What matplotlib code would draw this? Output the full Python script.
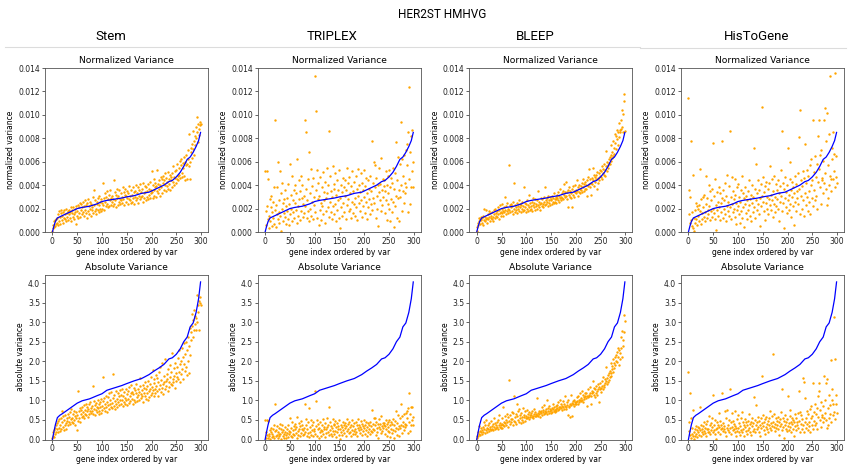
import matplotlib
matplotlib.use('Agg')
import matplotlib.pyplot as plt
from matplotlib.lines import Line2D
import numpy as np

W, H = 850, 468

methods = ['Stem', 'TRIPLEX', 'BLEEP', 'HisToGene']
method_x = [111, 332, 535, 757]   # header centres, px

# ground-truth variance curve (genes ordered by var), read at a few gene indices
ref_idx = [0, 3, 6, 10, 15, 20, 30, 40, 50, 60, 75, 90, 100, 110, 125, 140, 150, 165,
           180, 195, 205, 215, 225, 235, 242, 250, 258, 265, 272, 278, 284, 290, 295, 299]
ref_norm = [0.0, 0.0005, 0.0009, 0.0012, 0.0013, 0.0014, 0.0016, 0.0018, 0.0020, 0.0021,
            0.0022, 0.0024, 0.0026, 0.0027, 0.0028, 0.0029, 0.0030, 0.0031, 0.0033, 0.0034,
            0.0036, 0.0038, 0.0040, 0.0043, 0.0044, 0.0047, 0.0051, 0.0056, 0.0062, 0.0064,
            0.0068, 0.0073, 0.0078, 0.0085]
ref_abs = [0.0, 0.20, 0.38, 0.56, 0.62, 0.66, 0.75, 0.84, 0.93, 0.99, 1.04, 1.12, 1.17, 1.26,
           1.32, 1.38, 1.43, 1.50, 1.56, 1.66, 1.75, 1.83, 1.92, 2.06, 2.09, 2.18, 2.32, 2.50,
           2.62, 2.88, 2.98, 3.25, 3.60, 4.03]

# predicted normalized variance per gene, in units of 1e-4
stem_norm = [1, 3, 6, 4, 9, 5, 10, 7, 11, 8, 12, 6, 15, 9, 18, 13, 7, 16, 19, 10,
             14, 8, 17, 12, 19, 11, 15, 20, 9, 16, 13, 18, 10, 19, 15, 12, 17, 21, 9, 16,
             19, 13, 21, 15, 11, 20, 17, 7, 22, 14, 18, 23, 12, 21, 16, 25, 13, 19, 24, 15,
             21, 17, 26, 14, 22, 19, 27, 16, 23, 12, 25, 18, 28, 15, 22, 20, 26, 14, 24, 19,
             21, 30, 16, 36, 23, 18, 27, 20, 15, 26, 24, 19, 29, 17, 23, 31, 20, 26, 18, 28,
             25, 20, 42, 23, 29, 19, 33, 26, 22, 30, 24, 35, 21, 28, 32, 22, 27, 36, 23, 29,
             26, 31, 22, 28, 44, 24, 34, 27, 21, 32, 29, 37, 23, 31, 26, 36, 28, 24, 33, 27,
             30, 25, 38, 28, 34, 23, 32, 37, 26, 31, 29, 35, 24, 33, 28, 39, 27, 31, 25, 36,
             32, 26, 38, 29, 34, 24, 35, 30, 40, 27, 33, 29, 38, 25, 36, 31, 28, 41, 30, 34,
             31, 37, 26, 42, 33, 29, 39, 34, 27, 38, 35, 30, 41, 28, 37, 32, 43, 29, 36, 33,
             52, 34, 29, 40, 36, 45, 31, 42, 38, 30, 39, 35, 53, 33, 41, 37, 44, 31, 40, 47,
             38, 45, 33, 42, 48, 36, 44, 40, 50, 35, 46, 39, 43, 51, 37, 45, 41, 49, 36, 47,
             44, 50, 38, 56, 43, 47, 40, 52, 46, 42, 53, 45, 58, 48, 44, 55, 49, 61, 46, 57,
             62, 50, 47, 59, 55, 64, 48, 60, 44, 57, 66, 58, 45, 62, 70, 56, 84, 45, 60, 72,
             68, 75, 63, 86, 71, 78, 66, 82, 74, 90, 80, 98, 85, 77, 92, 88, 83, 91, 94, 92]

triplex_norm = [52, 6, 18, 52, 22, 11, 45, 3, 14, 28, 9, 21, 31, 5, 17, 26, 12, 38, 7, 19,
                96, 4, 23, 15, 38, 60, 11, 27, 8, 17, 52, 14, 33, 1, 20, 42, 9, 25, 16, 28,
                13, 36, 22, 7, 29, 18, 41, 11, 24, 6, 58, 15, 32, 20, 48, 9, 27, 17, 36, 12,
                25, 40, 19, 33, 8, 62, 22, 14, 44, 28, 10, 35, 48, 18, 29, 40, 13, 24, 31, 16,
                96, 22, 85, 37, 12, 27, 45, 18, 68, 9, 33, 20, 54, 14, 39, 26, 11, 46, 23, 30,
                133, 17, 103, 36, 12, 53, 28, 42, 6, 31, 19, 47, 25, 10, 38, 22, 51, 15, 34, 27,
                8, 43, 29, 18, 55, 33, 21, 40, 13, 86, 26, 48, 17, 35, 11, 30, 56, 22, 41, 15,
                37, 24, 50, 9, 32, 19, 44, 27, 36, 12, 53, 3, 29, 40, 21, 34, 14, 46, 25, 38,
                17, 44, 31, 11, 36, 55, 23, 42, 28, 18, 47, 20, 33, 12, 39, 26, 52, 16, 35, 24,
                43, 29, 14, 48, 21, 37, 10, 31, 54, 25, 40, 18, 34, 50, 27, 13, 42, 22, 36, 30,
                53, 16, 39, 26, 46, 11, 33, 21, 44, 28, 37, 15, 48, 24, 35, 78, 19, 42, 29, 60,
                25, 38, 57, 12, 46, 31, 20, 40, 5, 34, 55, 27, 41, 18, 63, 36, 23, 45, 30, 39,
                44, 16, 35, 52, 27, 10, 40, 24, 48, 33, 20, 53, 38, 9, 46, 28, 17, 42, 26, 55,
                4, 37, 22, 50, 31, 77, 12, 44, 29, 64, 36, 9, 58, 30, 94, 40, 18, 62, 35, 48,
                25, 66, 42, 33, 70, 38, 75, 57, 17, 85, 45, 124, 68, 24, 82, 38, 52, 87, 60, 38]

bleep_norm = [1, 4, 8, 6, 12, 9, 11, 7, 13, 10, 8, 12, 6, 14, 10, 20, 9, 13, 11, 19,
              12, 8, 15, 11, 18, 13, 9, 16, 12, 14, 11, 17, 13, 9, 19, 15, 12, 20, 14, 16,
              13, 18, 21, 15, 11, 19, 16, 23, 14, 17, 20, 16, 24, 18, 14, 21, 17, 30, 19, 15,
              22, 18, 25, 16, 20, 57, 19, 23, 17, 21, 24, 18, 22, 15, 26, 20, 42, 17, 23, 21,
              19, 25, 16, 22, 20, 27, 18, 24, 21, 17, 23, 20, 26, 18, 22, 38, 19, 25, 21, 17,
              24, 20, 27, 18, 23, 21, 32, 19, 25, 22, 20, 26, 18, 29, 23, 21, 25, 19, 28, 22,
              24, 20, 27, 23, 35, 21, 26, 24, 19, 29, 25, 22, 28, 24, 21, 30, 26, 23, 38, 27,
              24, 29, 26, 22, 31, 27, 25, 30, 23, 28, 27, 24, 31, 26, 29, 25, 33, 28, 26, 30,
              28, 25, 32, 29, 27, 34, 26, 31, 29, 37, 30, 27, 33, 29, 35, 28, 32, 41, 30, 34,
              31, 43, 34, 28, 36, 21, 32, 38, 30, 35, 33, 29, 37, 21, 39, 32, 35, 30, 40, 34,
              36, 33, 44, 35, 31, 38, 34, 40, 37, 33, 39, 36, 42, 34, 45, 38, 35, 41, 37, 43,
              40, 37, 31, 44, 39, 47, 41, 54, 38, 45, 42, 32, 46, 41, 55, 44, 49, 39, 47, 43,
              45, 49, 37, 51, 46, 42, 50, 44, 48, 53, 47, 52, 45, 56, 50, 54, 49, 58, 53, 48,
              56, 69, 52, 60, 57, 55, 62, 59, 64, 58, 61, 66, 74, 63, 68, 78, 65, 72, 67, 84,
              76, 82, 71, 87, 79, 85, 74, 93, 81, 87, 85, 96, 88, 104, 90, 101, 85, 118, 112, 86]

histogene_norm = [114, 15, 36, 30, 8, 78, 10, 5, 17, 3, 49, 12, 1, 8, 19, 25, 11, 22, 6, 20,
                  14, 23, 9, 54, 18, 7, 28, 16, 11, 30, 21, 13, 32, 17, 9, 48, 24, 12, 29, 19,
                  15, 40, 22, 10, 35, 18, 27, 13, 37, 20, 76, 16, 31, 11, 45, 23, 2, 34, 19, 26,
                  14, 38, 21, 10, 33, 25, 17, 78, 29, 12, 36, 20, 27, 15, 42, 9, 31, 22, 49, 18,
                  26, 14, 39, 21, 86, 30, 11, 47, 24, 17, 35, 20, 28, 13, 45, 32, 7, 25, 38, 19,
                  22, 41, 15, 30, 8, 26, 36, 18, 48, 12, 33, 21, 29, 4, 38, 24, 16, 31, 27, 11,
                  19, 35, 23, 44, 14, 28, 32, 9, 40, 25, 17, 30, 72, 21, 37, 12, 58, 27, 33, 19,
                  44, 24, 15, 36, 29, 5, 41, 22, 107, 31, 26, 47, 18, 34, 10, 39, 25, 43, 20, 30,
                  37, 15, 28, 42, 23, 56, 32, 19, 45, 27, 13, 35, 24, 48, 30, 17, 41, 22, 36, 28,
                  20, 44, 33, 9, 39, 26, 53, 31, 86, 18, 42, 25, 3, 37, 29, 47, 21, 34, 16, 40,
                  27, 72, 32, 19, 45, 24, 60, 36, 13, 30, 43, 22, 38, 6, 33, 48, 26, 41, 18, 35,
                  29, 50, 24, 81, 37, 15, 104, 31, 44, 20, 39, 27, 52, 14, 46, 33, 75, 23, 42, 30,
                  53, 18, 48, 35, 26, 57, 15, 40, 62, 29, 44, 96, 22, 51, 36, 65, 27, 47, 31, 58,
                  20, 82, 43, 96, 54, 38, 66, 24, 70, 46, 44, 33, 61, 42, 96, 106, 50, 37, 78, 23,
                  102, 29, 57, 40, 84, 48, 133, 45, 35, 72, 62, 45, 85, 52, 67, 136, 38, 65, 47, 42]

# predicted absolute variance per gene, in units of 0.01
stem_abs = [3, 10, 18, 7, 24, 14, 30, 20, 36, 26, 42, 18, 47, 30, 52, 22, 38, 56, 28, 72,
            45, 32, 60, 24, 50, 38, 62, 42, 28, 55, 48, 64, 36, 58, 44, 70, 40, 52, 78, 46,
            56, 66, 42, 74, 50, 60, 38, 70, 54, 25, 62, 48, 125, 72, 56, 80, 46, 66, 76, 58,
            82, 60, 70, 88, 54, 76, 66, 92, 62, 74, 84, 58, 78, 90, 64, 96, 72, 80, 68, 86,
            74, 138, 66, 98, 78, 88, 62, 94, 76, 84, 70, 100, 80, 64, 90, 74, 96, 82, 68, 104,
            86, 76, 98, 160, 80, 106, 72, 92, 112, 84, 96, 70, 108, 88, 78, 118, 90, 100, 82, 122,
            94, 80, 168, 106, 86, 114, 98, 78, 124, 92, 104, 84, 118, 96, 110, 88, 126, 100, 90, 114,
            102, 130, 86, 112, 96, 122, 106, 92, 128, 100, 116, 88, 124, 104, 134, 94, 112, 98, 120, 140,
            104, 122, 92, 116, 132, 100, 126, 96, 118, 142, 108, 98, 130, 114, 122, 102, 136, 158, 116, 106,
            126, 110, 140, 96, 120, 132, 112, 146, 104, 128, 118, 136, 100, 150, 124, 108, 142, 130, 114, 160,
            134, 120, 178, 126, 144, 110, 154, 130, 118, 166, 138, 124, 158, 112, 148, 172, 128, 140, 186, 122,
            152, 132, 195, 142, 116, 162, 146, 128, 205, 150, 136, 168, 156, 124, 180, 148, 134, 190, 160, 142,
            172, 140, 220, 156, 146, 182, 162, 132, 196, 170, 150, 186, 160, 208, 154, 230, 172, 192, 148, 202,
            168, 235, 180, 212, 155, 248, 192, 218, 176, 250, 186, 228, 165, 262, 200, 240, 170, 285, 215, 255,
            275, 320, 290, 262, 305, 280, 330, 295, 315, 280, 310, 370, 300, 345, 325, 355, 280, 365, 350, 345]

triplex_abs = [50, 5, 20, 50, 12, 3, 48, 8, 15, 25, 2, 18, 30, 6, 14, 28, 10, 38, 4, 22,
               92, 8, 25, 12, 35, 20, 5, 30, 15, 10, 40, 13, 28, 2, 18, 36, 9, 24, 14, 5,
               20, 33, 11, 4, 26, 16, 38, 7, 22, 13, 55, 18, 30, 10, 45, 6, 25, 15, 35, 12,
               28, 40, 16, 33, 5, 58, 22, 12, 42, 26, 8, 35, 48, 17, 28, 38, 11, 24, 30, 14,
               92, 20, 52, 36, 10, 26, 45, 16, 80, 7, 32, 18, 50, 12, 38, 25, 9, 44, 22, 28,
               125, 15, 98, 35, 10, 50, 27, 40, 4, 30, 18, 45, 24, 8, 36, 21, 52, 13, 32, 26,
               6, 42, 28, 16, 54, 32, 20, 38, 12, 82, 25, 46, 15, 34, 9, 29, 52, 21, 40, 14,
               36, 23, 48, 7, 31, 18, 42, 26, 35, 11, 50, 2, 28, 38, 20, 33, 12, 44, 24, 36,
               16, 42, 30, 9, 35, 52, 22, 40, 27, 17, 45, 19, 32, 10, 38, 25, 50, 15, 34, 23,
               41, 28, 13, 46, 20, 36, 8, 30, 52, 24, 38, 17, 33, 48, 26, 12, 40, 21, 35, 29,
               50, 15, 38, 25, 44, 10, 32, 20, 42, 27, 36, 14, 46, 23, 34, 75, 18, 40, 28, 56,
               24, 37, 55, 11, 44, 30, 19, 39, 3, 33, 52, 26, 40, 17, 60, 35, 22, 43, 29, 38,
               42, 15, 34, 50, 26, 8, 39, 23, 46, 32, 19, 50, 37, 7, 44, 27, 16, 40, 25, 52,
               4, 36, 21, 48, 30, 72, 11, 42, 28, 62, 35, 8, 56, 29, 90, 38, 17, 60, 34, 46,
               24, 64, 40, 32, 68, 37, 72, 55, 16, 80, 44, 118, 66, 23, 82, 37, 50, 84, 58, 36]

bleep_abs = [3, 10, 20, 8, 35, 15, 22, 12, 30, 18, 25, 14, 32, 20, 45, 28, 17, 38, 24, 50,
             30, 20, 36, 26, 42, 22, 33, 28, 47, 25, 35, 28, 40, 24, 55, 32, 27, 43, 30, 38,
             33, 45, 28, 50, 36, 62, 31, 42, 38, 29, 40, 30, 55, 38, 82, 46, 34, 60, 42, 50,
             36, 66, 44, 58, 32, 152, 48, 40, 62, 52, 45, 70, 52, 38, 68, 48, 112, 58, 44, 65,
             40, 60, 92, 50, 72, 45, 78, 55, 62, 42, 68, 50, 58, 44, 80, 57, 62, 48, 74, 56,
             60, 55, 75, 58, 64, 52, 70, 62, 57, 67, 63, 58, 72, 60, 55, 78, 65, 61, 70, 59,
             66, 62, 105, 68, 60, 74, 64, 70, 58, 72, 67, 82, 63, 75, 70, 65, 88, 72, 68, 78,
             70, 100, 66, 80, 74, 69, 85, 72, 77, 68, 75, 80, 71, 78, 90, 74, 82, 76, 70, 85,
             78, 73, 88, 80, 76, 95, 82, 77, 102, 84, 80, 90, 76, 86, 82, 98, 78, 92, 85, 110,
             84, 78, 95, 88, 62, 100, 86, 82, 92, 58, 88, 115, 94, 60, 98, 90, 85, 102, 92, 96,
             95, 90, 108, 98, 92, 112, 100, 96, 118, 102, 98, 106, 125, 102, 96, 115, 108, 104, 120, 110,
             105, 118, 85, 112, 108, 128, 115, 110, 135, 120, 112, 90, 125, 118, 150, 122, 115, 132, 108, 128,
             120, 138, 125, 115, 142, 130, 95, 135, 128, 145, 132, 122, 150, 138, 128, 160, 140, 135, 155, 145,
             150, 185, 142, 158, 148, 165, 152, 170, 160, 175, 162, 195, 170, 180, 188, 205, 172, 195, 182, 210,
             190, 215, 200, 225, 198, 235, 212, 190, 228, 205, 222, 262, 235, 210, 278, 240, 255, 275, 318, 302]

histogene_abs = [173, 22, 45, 118, 12, 55, 5, 30, 15, 8, 75, 18, 2, 10, 28, 35, 14, 25, 6, 32,
                 20, 30, 12, 82, 24, 9, 38, 18, 28, 15, 34, 22, 45, 16, 30, 10, 40, 26, 48, 20,
                 28, 60, 18, 36, 14, 42, 25, 55, 32, 20, 115, 24, 38, 15, 50, 28, 2, 44, 30, 36,
                 20, 68, 32, 14, 48, 26, 38, 118, 30, 22, 42, 28, 35, 18, 72, 10, 55, 30, 75, 24,
                 38, 20, 50, 30, 130, 45, 15, 68, 32, 25, 48, 28, 40, 18, 72, 35, 10, 30, 52, 22,
                 30, 62, 20, 42, 12, 35, 55, 25, 70, 18, 45, 28, 38, 8, 52, 32, 22, 46, 36, 15,
                 25, 48, 30, 65, 20, 40, 44, 12, 55, 34, 22, 42, 108, 28, 50, 18, 88, 36, 46, 26,
                 58, 32, 20, 48, 38, 8, 55, 30, 163, 42, 34, 62, 24, 46, 14, 52, 32, 58, 28, 40,
                 48, 20, 38, 56, 30, 72, 42, 25, 60, 35, 218, 45, 32, 65, 40, 22, 55, 30, 48, 36,
                 26, 58, 44, 12, 52, 35, 70, 40, 130, 24, 55, 32, 3, 48, 38, 62, 28, 45, 22, 52,
                 35, 110, 42, 25, 60, 32, 75, 46, 18, 40, 56, 28, 50, 8, 44, 65, 34, 55, 24, 46,
                 38, 68, 30, 123, 48, 20, 70, 40, 62, 26, 52, 36, 158, 18, 148, 44, 105, 30, 55, 40,
                 72, 25, 65, 46, 35, 78, 20, 54, 85, 38, 60, 145, 28, 70, 48, 90, 36, 65, 42, 80,
                 26, 110, 58, 145, 125, 50, 75, 32, 95, 62, 58, 45, 85, 56, 162, 100, 68, 50, 145, 30,
                 155, 38, 80, 54, 115, 65, 88, 203, 46, 100, 128, 62, 92, 313, 70, 52, 207, 90, 115, 68]

norm_preds = [stem_norm, triplex_norm, bleep_norm, histogene_norm]
abs_preds = [stem_abs, triplex_abs, bleep_abs, histogene_abs]

# panel geometry in px (left edges, width, top edges, heights)
lefts = [45, 257.7, 469.3, 681]
pw = 163
rows = [(68, 164), (274.5, 165)]

plt.rcParams['font.family'] = 'DejaVu Sans'
fig = plt.figure(figsize=(W / 100, H / 100), dpi=100)


def style_axes(ax):
    for sp in ax.spines.values():
        sp.set_color('#555555')
        sp.set_linewidth(0.6)
    ax.tick_params(labelsize=5.5, length=1.9, width=0.5, pad=1.6, colors='#222222')


for c in range(4):
    for r in range(2):
        top, ph = rows[r]
        ax = fig.add_axes([lefts[c] / W, 1 - (top + ph) / H, pw / W, ph / H])
        style_axes(ax)
        if r == 0:
            vals = np.array(norm_preds[c]) * 1e-4
            ax.scatter(np.arange(len(vals)), vals, s=3, color='orange', linewidths=0)
            ax.plot(ref_idx, ref_norm, color='blue', lw=0.9)
            ax.set_ylim(0, 0.014)
            ax.set_yticks(np.arange(0, 0.0141, 0.002))
            ax.set_title('Normalized Variance', fontsize=6.6, pad=3.3)
            ax.set_ylabel('normalized variance', fontsize=5.5, labelpad=2)
        else:
            vals = np.array(abs_preds[c]) * 0.01
            ax.scatter(np.arange(len(vals)), vals, s=3, color='orange', linewidths=0)
            ax.plot(ref_idx, ref_abs, color='blue', lw=0.9)
            ax.set_ylim(0, 4.22)
            ax.set_yticks(np.arange(0, 4.01, 0.5))
            ax.set_title('Absolute Variance', fontsize=6.6, pad=3.3)
            ax.set_ylabel('absolute variance', fontsize=5.5, labelpad=2)
        ax.set_xlim(-15, 314)
        ax.set_xticks([0, 50, 100, 150, 200, 250, 300])
        ax.set_xlabel('gene index ordered by var', fontsize=5.5, labelpad=1.5)

# header
fig.text(442 / W, 1 - 15 / H, 'HER2ST HMHVG', ha='center', va='center',
         fontsize=8.5, family='Roboto')
for name, x in zip(methods, method_x):
    fig.text(x / W, 1 - 36 / H, name, ha='center', va='center', fontsize=9.5, family='Roboto')
fig.add_artist(Line2D([5 / W, 640 / W], [1 - 47 / H, 1 - 47 / H], color='#dcdcdc', lw=0.8))
fig.add_artist(Line2D([640 / W, 846 / W], [1 - 48 / H, 1 - 48 / H], color='#dcdcdc', lw=0.8))

fig.savefig('out.png', dpi=100)
